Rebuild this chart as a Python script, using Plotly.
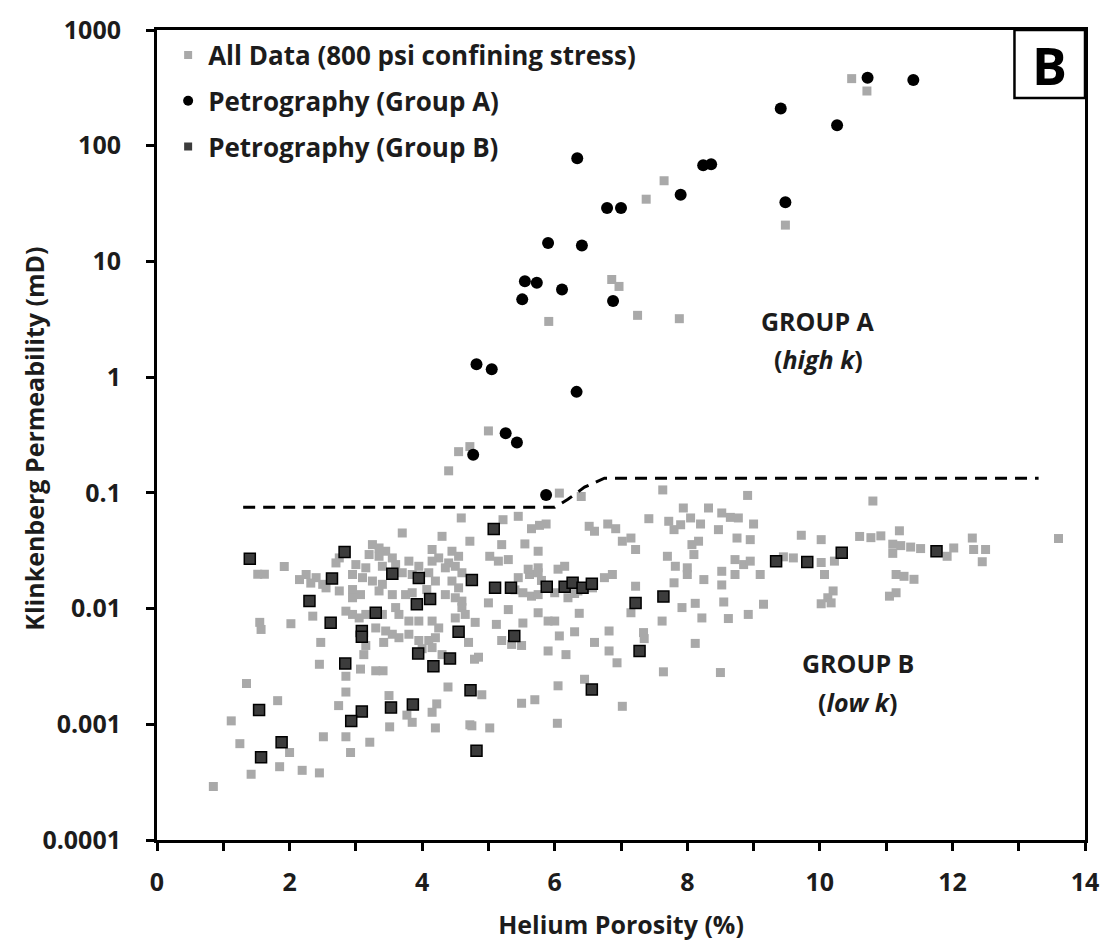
import plotly.graph_objects as go

# ---------------- data ----------------
all_x = [10.48, 10.71, 7.65, 7.38, 9.48, 6.86, 6.97, 5.91, 7.25, 7.88, 5.0, 4.72, 4.55, 4.40, 6.07, 6.40, 7.63, 8.91, 10.80,
         4.59, 3.70, 4.30, 4.72, 1.52, 1.62, 1.92, 1.55, 1.57, 2.02, 2.35, 2.47, 2.45, 1.35, 1.82, 1.12, 1.25, 1.42, 1.85, 2.0,
         2.19, 2.45, 0.85, 2.51, 2.85, 2.92, 3.21, 2.74, 2.85, 2.85, 3.07, 3.30, 3.41, 3.12, 3.42, 3.50, 3.85, 3.51, 3.77, 4.22,
         4.15, 4.20, 4.39, 4.72, 4.79, 4.70,
         3.25, 3.35, 3.45, 3.20, 3.35, 3.55, 4.15, 4.45, 4.55, 4.25, 4.40,
         2.70, 3.0, 3.15, 3.40, 3.60, 3.80, 3.95, 4.15, 4.35, 4.50, 4.60, 2.25, 2.40, 2.50, 2.95, 3.10, 3.25, 3.40, 3.70, 3.85,
         4.10, 4.20, 4.45, 4.55, 2.15, 2.32, 2.75,
         2.55, 2.75, 2.95, 3.07, 2.95, 3.35, 3.55, 3.75, 3.85, 4.07, 4.35, 4.50, 4.60, 4.60,
         2.85, 2.95, 3.05, 3.15, 3.40, 3.60, 3.65, 3.80, 3.95, 4.15, 4.25, 4.50, 4.65,
         3.30, 3.45, 3.55, 3.65, 3.80, 3.95, 4.10, 4.20, 3.15, 4.0, 4.15, 4.30, 4.85,
         5.45, 5.22, 5.65, 5.77, 5.87, 7.42, 7.94, 8.32, 8.52, 8.65, 8.77, 9.0, 7.72, 7.80, 7.90, 8.05, 8.20, 8.47, 6.52, 6.60,
         6.80, 6.92, 7.02, 7.15, 7.22, 5.20, 5.55, 5.75, 5.02, 5.15, 5.30, 5.75, 5.62, 5.75, 6.05, 6.15, 5.45, 6.75, 6.87, 5.52,
         5.65, 5.75, 6.0, 6.2, 6.35, 6.57, 5.0, 5.30, 5.75, 5.90, 6.0, 6.37, 4.80, 5.12, 5.52, 5.20, 5.35, 5.50, 5.90, 6.17,
         6.07, 6.30, 6.60, 6.82, 6.82, 6.94, 7.34, 7.35, 7.15, 7.22, 7.62, 7.80, 7.70, 7.82, 8.0, 8.0, 8.10, 8.17, 8.07, 8.25,
         8.52, 8.52, 8.72, 8.85, 8.95, 8.72, 8.75, 8.95, 9.10, 7.92, 8.12, 8.22, 8.55, 8.62, 8.92, 9.15, 8.12, 7.64, 8.50, 6.05,
         6.45, 7.02, 5.50, 5.70, 4.90, 4.75, 5.02, 6.04, 5.60, 5.80, 6.30, 5.40,
         9.72, 10.02, 10.60, 10.77, 10.92, 11.2, 11.1, 11.22, 11.37, 11.52, 11.1, 12.02, 11.92, 12.3, 12.32, 12.5, 12.45, 13.6,
         9.6, 10.02, 10.22, 10.07, 11.15, 11.27, 11.42, 11.05, 11.15, 10.2, 10.12, 10.02, 10.17, 9.45]
all_y = [380, 297, 49.8, 34.5, 20.6, 6.98, 6.08, 3.03, 3.42, 3.2, 0.343, 0.251, 0.227, 0.155, 0.0995, 0.093, 0.106, 0.095, 0.085,
         0.0607, 0.045, 0.0421, 0.0382, 0.0198, 0.0198, 0.0231, 0.0076, 0.0066, 0.0074, 0.0086, 0.0051, 0.0033, 0.00225, 0.0016,
         0.00107, 0.00068, 0.00037, 0.00043, 0.00057, 0.0004, 0.00038, 0.00029, 0.00078, 0.00078, 0.00057, 0.0007, 0.00145,
         0.0019, 0.0026, 0.003, 0.0029, 0.0029, 0.004, 0.0051, 0.00177, 0.00104, 0.00095, 0.0012, 0.0015, 0.00127, 0.00093,
         0.0021, 0.00099, 0.00365, 0.0051,
         0.0357, 0.0334, 0.0313, 0.0293, 0.0283, 0.0274, 0.0324, 0.0313, 0.0283, 0.0274, 0.0248,
         0.0248, 0.024, 0.0225, 0.0232, 0.024, 0.0257, 0.0232, 0.0257, 0.0225, 0.0232, 0.0204, 0.0197, 0.0185, 0.0162, 0.0197,
         0.0185, 0.0173, 0.0162, 0.0204, 0.0197, 0.0204, 0.0173, 0.0173, 0.0151, 0.0178, 0.0166, 0.0274,
         0.0151, 0.0142, 0.0146, 0.0132, 0.0124, 0.0142, 0.0132, 0.0132, 0.0137, 0.0146, 0.0132, 0.0124, 0.0116, 0.0102,
         0.0095, 0.0089, 0.0083, 0.0089, 0.0089, 0.0102, 0.0089, 0.0078, 0.0078, 0.0078, 0.0068, 0.0083, 0.0089,
         0.0068, 0.0064, 0.006, 0.0056, 0.006, 0.0053, 0.0053, 0.0056, 0.0048, 0.0045, 0.0046, 0.004, 0.0038,
         0.0627, 0.0586, 0.049, 0.0524, 0.0538, 0.0598, 0.074, 0.074, 0.067, 0.0614, 0.0607, 0.0538, 0.0568, 0.0481, 0.053,
         0.0607, 0.0538, 0.0481, 0.0514, 0.0466, 0.0538, 0.049, 0.0382, 0.0407, 0.0324, 0.0357, 0.0362, 0.0313, 0.0283, 0.0257,
         0.0265, 0.0225, 0.0197, 0.0204, 0.0219, 0.0232, 0.0185, 0.0185, 0.0197, 0.0137, 0.0128, 0.0132, 0.0137, 0.0124,
         0.0142, 0.0151, 0.0112, 0.0098, 0.0092, 0.0078, 0.0078, 0.0091, 0.0076, 0.0073, 0.0075, 0.0053, 0.0049, 0.0048,
         0.0043, 0.004, 0.0058, 0.0063, 0.0051, 0.0064, 0.0043, 0.0034, 0.0062, 0.0055, 0.0092, 0.0156, 0.0078, 0.0167, 0.0283,
         0.0232, 0.0225, 0.0197, 0.0293, 0.0382, 0.0357, 0.0178, 0.021, 0.016, 0.0265, 0.024, 0.0257, 0.0197, 0.0407, 0.0394,
         0.0197, 0.0102, 0.0111, 0.0083, 0.0114, 0.0082, 0.0089, 0.0109, 0.005, 0.00284, 0.0028, 0.00215, 0.00245, 0.00143,
         0.00152, 0.00163, 0.0018, 0.00097, 0.00093, 0.00102, 0.0219, 0.0175, 0.0135, 0.0145,
         0.043, 0.0394, 0.042, 0.041, 0.0425, 0.047, 0.036, 0.035, 0.034, 0.033, 0.030, 0.0334, 0.0283, 0.0407, 0.0324, 0.0324,
         0.0254, 0.0403, 0.0274, 0.025, 0.0257, 0.0197, 0.0197, 0.019, 0.0179, 0.0128, 0.0137, 0.0142, 0.0124, 0.011, 0.0112,
         0.028]

groupA_x = [10.72, 11.41, 9.41, 10.26, 6.34, 8.24, 8.36, 7.90, 9.48, 6.79, 7.00, 5.90, 6.41, 5.55, 5.73, 6.11, 5.51, 6.88,
            4.82, 5.05, 6.33, 5.26, 5.43, 4.77, 5.87]
groupA_y = [386, 369, 210, 150, 77.8, 67.8, 69.2, 37.7, 32.4, 28.9, 28.9, 14.4, 13.7, 6.75, 6.53, 5.73, 4.70, 4.54,
            1.29, 1.17, 0.746, 0.327, 0.273, 0.213, 0.096]

groupB_x = [1.40, 2.83, 2.64, 3.55, 3.95, 4.75, 2.30, 3.92, 4.12, 3.30, 2.62, 3.09, 3.09, 4.55, 3.94, 4.17, 4.42, 2.84,
            4.73, 1.54, 3.09, 2.93, 3.53, 3.86, 1.88, 1.57, 4.82,
            5.08, 5.10, 5.34, 5.88, 6.15, 6.27, 6.42, 6.56, 5.39, 7.22, 7.64, 7.28, 6.56,
            9.34, 9.81, 10.33, 11.76]
groupB_y = [0.027, 0.0308, 0.0182, 0.02, 0.0184, 0.0177, 0.0116, 0.0109, 0.0121, 0.0092, 0.00755, 0.0064, 0.0057, 0.0063,
            0.0041, 0.00318, 0.0037, 0.00335, 0.00197, 0.00133, 0.00129, 0.00107, 0.0014, 0.00148, 0.0007, 0.00052, 0.00059,
            0.0486, 0.0151, 0.0151, 0.0154, 0.0154, 0.0167, 0.0151, 0.0164, 0.0058, 0.0112, 0.0127, 0.0043, 0.0020,
            0.0256, 0.0253, 0.0303, 0.0313]

cutoff_x = [1.3, 6.0, 6.2, 6.45, 6.75, 13.3]
cutoff_y = [0.075, 0.075, 0.088, 0.112, 0.134, 0.134]

y_tickvals = [0.0001, 0.001, 0.01, 0.1, 1, 10, 100, 1000]
y_ticktext = ["0.0001", "0.001", "0.01", "0.1", "1", "10", "100", "1000"]
x_tickvals = [0, 2, 4, 6, 8, 10, 12, 14]

names = ["All Data (800 psi confining stress)", "Petrography (Group A)", "Petrography (Group B)"]
x_title = "Helium Porosity (%)"
y_title = "Klinkenberg Permeability (mD)"

# ---------------- styles ----------------
FONT = "Open Sans"
INK = "#1c1c1c"
GRAY = "#a9a9a9"
DARK = "#3c3c3c"

fig = go.Figure()

fig.add_trace(go.Scatter(x=all_x, y=all_y, mode="markers", showlegend=False,
                         marker=dict(symbol="square", size=9, color=GRAY)))
fig.add_trace(go.Scatter(x=cutoff_x, y=cutoff_y, mode="lines", showlegend=False,
                         line=dict(color="black", width=3, dash="12px,8px")))
fig.add_trace(go.Scatter(x=groupB_x, y=groupB_y, mode="markers", showlegend=False,
                         marker=dict(symbol="square", size=11, color=DARK, line=dict(color="black", width=1.5))))
fig.add_trace(go.Scatter(x=groupA_x, y=groupA_y, mode="markers", showlegend=False,
                         marker=dict(symbol="circle", size=12, color="black")))

# legend entries (small markers like the reference)
fig.add_trace(go.Scatter(x=[None], y=[None], mode="markers", name=names[0], legendgroup="g1",
                         marker=dict(symbol="square", size=8, color=GRAY)))
fig.add_trace(go.Scatter(x=[None], y=[None], mode="markers", name=names[1], legendgroup="g2",
                         marker=dict(symbol="circle", size=10, color="black")))
fig.add_trace(go.Scatter(x=[None], y=[None], mode="markers", name=names[2], legendgroup="g3",
                         marker=dict(symbol="square", size=8, color=DARK)))

axis_common = dict(showline=True, linecolor="black", linewidth=3, mirror=True,
                   ticks="outside", ticklen=8, tickwidth=2.5, tickcolor="black",
                   showgrid=False, zeroline=False,
                   tickfont=dict(family=FONT, size=25, color=INK, weight="bold"))

title_font = dict(family=FONT, size=25, color=INK, weight="bold")

fig.update_layout(
    width=1111, height=951,
    margin=dict(l=157, r=21, t=27, b=111),
    paper_bgcolor="white", plot_bgcolor="white",
    font=dict(family=FONT, color=INK),
    xaxis=dict(range=[0, 14], tickvals=x_tickvals, ticklabelstandoff=10,
               minor=dict(dtick=1, ticks="outside", ticklen=8, tickwidth=2.5, tickcolor="black"),
               title=dict(text=x_title, standoff=20, font=title_font),
               **axis_common),
    yaxis=dict(type="log", range=[-4, 3], tickvals=y_tickvals, ticktext=y_ticktext, ticklabelstandoff=20,
               **axis_common),
    legend=dict(x=0.012, y=0.998, xanchor="left", yanchor="top", bgcolor="rgba(0,0,0,0)",
                font=dict(family=FONT, size=26, color=INK, weight="bold"),
                tracegroupgap=9, itemwidth=30),
    shapes=[dict(type="rect", xref="paper", yref="paper", x0=0.924, x1=1.0, y0=0.916, y1=1.0,
                 line=dict(color="black", width=2.5), fillcolor="white")],
    annotations=[
        dict(text=y_title, xref="paper", yref="paper", x=-0.133, y=0.495, textangle=-90,
             xanchor="center", yanchor="middle", showarrow=False, font=title_font),
        dict(text="<b>B</b>", xref="paper", yref="paper", x=0.962, y=0.958, xanchor="center", yanchor="middle",
             showarrow=False, font=dict(family=FONT, size=52, color="black")),
        dict(text="<b>GROUP A</b>", x=9.97, y=0.482, yref="y", xref="x", showarrow=False,
             xanchor="center", yanchor="middle", font=dict(family=FONT, size=25, color=INK)),
        dict(text="<b>(<i>high k</i>)</b>", x=9.98, y=0.16, yref="y", xref="x", showarrow=False,
             xanchor="center", yanchor="middle", font=dict(family=FONT, size=25, color=INK)),
        dict(text="<b>GROUP B</b>", x=10.57, y=-2.467, yref="y", xref="x", showarrow=False,
             xanchor="center", yanchor="middle", font=dict(family=FONT, size=25, color=INK)),
        dict(text="<b>(<i>low k</i>)</b>", x=10.57, y=-2.811, yref="y", xref="x", showarrow=False,
             xanchor="center", yanchor="middle", font=dict(family=FONT, size=25, color=INK)),
    ],
)

fig.write_html("out.html")
